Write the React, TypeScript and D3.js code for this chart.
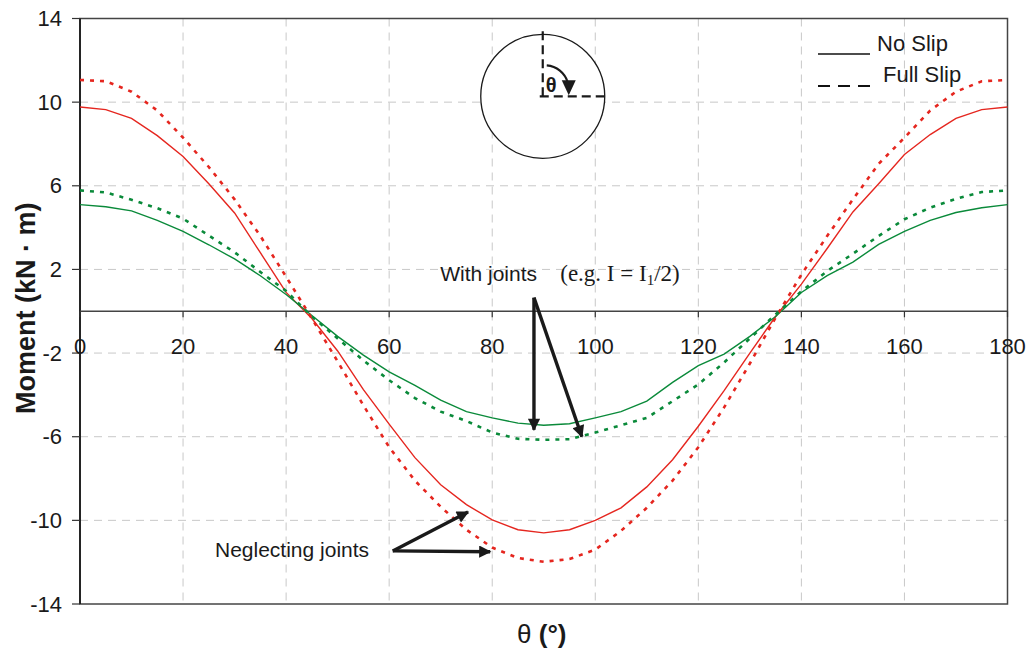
import { useEffect, useRef } from "react"
import * as d3 from "d3"

// angle (deg) sampled every 5 degrees
const theta = d3.range(0, 181, 5)

// Neglecting joints
const redNoSlip = [
  9.77, 9.64, 9.22, 8.4, 7.4, 6.1, 4.7, 2.8, 0.9, -0.35, -1.9, -3.75, -5.4, -7.0, -8.3, -9.25, -9.98, -10.45,
  -10.6, -10.45, -10.0, -9.4, -8.4, -7.1, -5.5, -3.8, -2.0, -0.25, 1.3, 3.0, 4.75, 6.1, 7.5, 8.45, 9.22, 9.64, 9.77,
]
const redFullSlip = [
  11.06, 11.0, 10.5, 9.6, 8.3, 6.9, 5.35, 3.6, 1.65, -0.35, -2.4, -4.5, -6.5, -8.1, -9.35, -10.45, -11.3, -11.8,
  -11.98, -11.85, -11.4, -10.5, -9.4, -8.1, -6.5, -4.6, -2.5, -0.3, 1.75, 3.6, 5.35, 7.05, 8.3, 9.6, 10.5, 11.0, 11.06,
]
// With joints (e.g. I = I1/2)
const greenNoSlip = [
  5.1, 5.0, 4.8, 4.35, 3.82, 3.18, 2.5, 1.7, 0.8, -0.2, -1.2, -2.1, -2.9, -3.55, -4.25, -4.8, -5.1, -5.35,
  -5.45, -5.38, -5.1, -4.8, -4.3, -3.4, -2.6, -2.05, -1.2, -0.25, 0.9, 1.7, 2.35, 3.2, 3.82, 4.35, 4.72, 4.95, 5.1,
]
const greenFullSlip = [
  5.78, 5.68, 5.33, 4.93, 4.43, 3.62, 2.82, 1.88, 0.97, -0.25, -1.3, -2.35, -3.3, -4.15, -4.8, -5.25, -5.8, -6.1,
  -6.15, -6.12, -5.8, -5.45, -5.1, -4.3, -3.5, -2.45, -1.3, -0.15, 0.95, 1.92, 2.75, 3.6, 4.4, 4.95, 5.38, 5.7, 5.78,
]

const xTicks = [0, 20, 40, 60, 80, 100, 120, 140, 160, 180]
const yTicks = [14, 10, 6, 2, -2, -6, -10, -14]

const RED = "#e5261f"
const GREEN = "#0a8a3a"
const SANS = "'Liberation Sans', Arial, sans-serif"
const SERIF = "'Liberation Serif', 'Times New Roman', serif"

const App = () => {
  const svgRef = useRef<SVGSVGElement>(null)

  useEffect(() => {
    const width = 1030
    const height = 652
    const x = d3.scaleLinear().domain([0, 180]).range([80, 1007.5])
    const y = d3.scaleLinear().domain([-14, 14]).range([604, 18.5])

    const svg = d3.select(svgRef.current).attr("width", width).attr("height", height)
    svg.selectAll("*").remove()

    const defs = svg.append("defs")
    defs
      .append("marker")
      .attr("id", "ah")
      .attr("viewBox", "0 0 10 10")
      .attr("refX", 9)
      .attr("refY", 5)
      .attr("markerWidth", 5)
      .attr("markerHeight", 3.6)
      .attr("markerUnits", "strokeWidth")
      .attr("orient", "auto")
      .append("path")
      .attr("d", "M0,0 L10,5 L0,10 Z")
      .attr("fill", "#1a1a1a")

    // grid
    const grid = svg.append("g").attr("stroke", "#c8c8c8").attr("stroke-width", 1).attr("stroke-dasharray", "8,6")
    grid
      .selectAll("line.v")
      .data(xTicks.slice(1, -1))
      .enter()
      .append("line")
      .attr("x1", (d) => x(d))
      .attr("x2", (d) => x(d))
      .attr("y1", y(14))
      .attr("y2", y(-14))
    grid
      .selectAll("line.h")
      .data(yTicks.slice(1, -1))
      .enter()
      .append("line")
      .attr("x1", x(0))
      .attr("x2", x(180))
      .attr("y1", (d) => y(d))
      .attr("y2", (d) => y(d))

    // frame
    svg
      .append("rect")
      .attr("x", x(0))
      .attr("y", y(14))
      .attr("width", x(180) - x(0))
      .attr("height", y(-14) - y(14))
      .attr("fill", "none")
      .attr("stroke", "#444")
      .attr("stroke-width", 1.5)
    svg
      .append("line")
      .attr("x1", x(0))
      .attr("x2", x(0))
      .attr("y1", y(14))
      .attr("y2", y(-14))
      .attr("stroke", "#111")
      .attr("stroke-width", 1.6)

    // zero line with ticks
    svg
      .append("line")
      .attr("x1", x(0))
      .attr("x2", x(180))
      .attr("y1", y(0))
      .attr("y2", y(0))
      .attr("stroke", "#444")
      .attr("stroke-width", 1.6)
    svg
      .append("g")
      .selectAll("line")
      .data(xTicks)
      .enter()
      .append("line")
      .attr("x1", (d) => x(d))
      .attr("x2", (d) => x(d))
      .attr("y1", y(0))
      .attr("y2", y(0) + 6)
      .attr("stroke", "#333")
      .attr("stroke-width", 1.2)

    // y ticks
    svg
      .append("g")
      .selectAll("line")
      .data(yTicks)
      .enter()
      .append("line")
      .attr("x1", x(0) - 8)
      .attr("x2", x(0))
      .attr("y1", (d) => y(d))
      .attr("y2", (d) => y(d))
      .attr("stroke", "#333")
      .attr("stroke-width", 1.2)
    svg
      .append("g")
      .selectAll("text")
      .data(yTicks)
      .enter()
      .append("text")
      .attr("x", x(0) - 18)
      .attr("y", (d) => y(d))
      .attr("dy", "0.35em")
      .attr("text-anchor", "end")
      .style("font-family", SANS)
      .style("font-size", "22px")
      .attr("fill", "#1a1a1a")
      .text((d) => d)

    // x tick labels (sit just below the zero line)
    svg
      .append("g")
      .selectAll("text")
      .data(xTicks)
      .enter()
      .append("text")
      .attr("x", (d) => x(d))
      .attr("y", y(0) + 43)
      .attr("text-anchor", "middle")
      .style("font-family", SANS)
      .style("font-size", "22px")
      .attr("fill", "#1a1a1a")
      .text((d) => d)

    // axis titles
    svg
      .append("text")
      .attr("transform", `translate(35,${y(0) - 3}) rotate(-90)`)
      .attr("text-anchor", "middle")
      .style("font-family", SANS)
      .style("font-size", "27px")
      .style("font-weight", "bold")
      .attr("fill", "#1a1a1a")
      .text("Moment (kN · m)")
    const xt = svg
      .append("text")
      .attr("x", x(90) - 2)
      .attr("y", 643)
      .attr("text-anchor", "middle")
      .style("font-family", SANS)
      .style("font-size", "26px")
      .attr("fill", "#1a1a1a")
    xt.append("tspan").text("θ ")
    xt.append("tspan").style("font-weight", "bold").text("(°)")

    // curves
    const line = d3
      .line<number>()
      .x((_, i) => x(theta[i]))
      .y((d) => y(d))
    const series = [
      { values: redNoSlip, color: RED, dash: null, w: 1.4 },
      { values: greenNoSlip, color: GREEN, dash: null, w: 1.4 },
      { values: redFullSlip, color: RED, dash: "4,6", w: 2.6 },
      { values: greenFullSlip, color: GREEN, dash: "4,6", w: 2.6 },
    ]
    series.forEach((s) => {
      svg
        .append("path")
        .attr("d", line(s.values))
        .attr("fill", "none")
        .attr("stroke", s.color)
        .attr("stroke-width", s.w)
        .attr("stroke-dasharray", s.dash)
    })

    // legend
    const lg = svg.append("g")
    lg.append("line")
      .attr("x1", 818)
      .attr("x2", 870)
      .attr("y1", 54)
      .attr("y2", 54)
      .attr("stroke", "#111")
      .attr("stroke-width", 1.6)
    lg.append("text")
      .attr("x", 877)
      .attr("y", 51)
      .style("font-family", SANS)
      .style("font-size", "22px")
      .attr("fill", "#1a1a1a")
      .text("No Slip")
    lg.append("line")
      .attr("x1", 818)
      .attr("x2", 874)
      .attr("y1", 86)
      .attr("y2", 86)
      .attr("stroke", "#111")
      .attr("stroke-width", 1.8)
      .attr("stroke-dasharray", "12,8")
    lg.append("text")
      .attr("x", 883)
      .attr("y", 82)
      .style("font-family", SANS)
      .style("font-size", "22px")
      .attr("fill", "#1a1a1a")
      .text("Full Slip")

    // section inset with angle definition
    const cx = x(90) - 1
    const cy = y(10.28)
    const r = 62
    const inset = svg.append("g")
    inset
      .append("circle")
      .attr("cx", cx)
      .attr("cy", cy)
      .attr("r", r)
      .attr("fill", "white")
      .attr("stroke", "#1a1a1a")
      .attr("stroke-width", 1.3)
    inset
      .append("line")
      .attr("x1", cx)
      .attr("x2", cx)
      .attr("y1", cy - r - 3)
      .attr("y2", cy)
      .attr("stroke", "#1a1a1a")
      .attr("stroke-width", 2.2)
      .attr("stroke-dasharray", "9,5")
    inset
      .append("line")
      .attr("x1", cx - 3)
      .attr("x2", cx + r + 3)
      .attr("y1", cy)
      .attr("y2", cy)
      .attr("stroke", "#1a1a1a")
      .attr("stroke-width", 2.2)
      .attr("stroke-dasharray", "9,5")
    inset
      .append("path")
      .attr("d", `M${cx + 4},${cy - 31} A24,24 0 0 1 ${cx + 25},${cy - 14}`)
      .attr("fill", "none")
      .attr("stroke", "#1a1a1a")
      .attr("stroke-width", 2.2)
    inset
      .append("path")
      .attr("d", `M${cx + 19},${cy - 16} L${cx + 33},${cy - 16} L${cx + 26},${cy - 1} Z`)
      .attr("fill", "#1a1a1a")
    inset
      .append("text")
      .attr("x", cx + 3)
      .attr("y", cy - 4)
      .style("font-family", SANS)
      .style("font-size", "20px")
      .style("font-weight", "bold")
      .attr("fill", "#1a1a1a")
      .text("θ")

    // annotations
    const arrow = (x1: number, y1: number, x2: number, y2: number) =>
      svg
        .append("line")
        .attr("x1", x(x1))
        .attr("y1", y(y1))
        .attr("x2", x(x2))
        .attr("y2", y(y2))
        .attr("stroke", "#1a1a1a")
        .attr("stroke-width", 3.4)
        .attr("marker-end", "url(#ah)")

    svg
      .append("text")
      .attr("x", x(69.9))
      .attr("y", y(1.43))
      .style("font-family", SANS)
      .style("font-size", "21px")
      .attr("fill", "#1a1a1a")
      .text("With joints")
    const eg = svg
      .append("text")
      .attr("x", x(93.2))
      .attr("y", y(1.43))
      .style("font-family", SERIF)
      .style("font-size", "23px")
      .attr("fill", "#1a1a1a")
    eg.append("tspan").text("(e.g. I = I")
    eg.append("tspan").style("font-size", "15px").attr("dy", 4).text("1")
    eg.append("tspan").attr("dy", -4).text("/2)")
    arrow(88.1, 0.65, 88.1, -5.67)
    arrow(88.1, 0.65, 97.4, -6.0)

    svg
      .append("text")
      .attr("x", x(26.2))
      .attr("y", y(-11.75))
      .style("font-family", SANS)
      .style("font-size", "21px")
      .attr("fill", "#1a1a1a")
      .text("Neglecting joints")
    arrow(60.7, -11.46, 75.3, -9.6)
    arrow(60.7, -11.46, 79.6, -11.5)
  }, [])

  return (
    <div style={{ position: "absolute", left: 0, top: 0 }}>
      <svg ref={svgRef}></svg>
    </div>
  )
}

export default App
